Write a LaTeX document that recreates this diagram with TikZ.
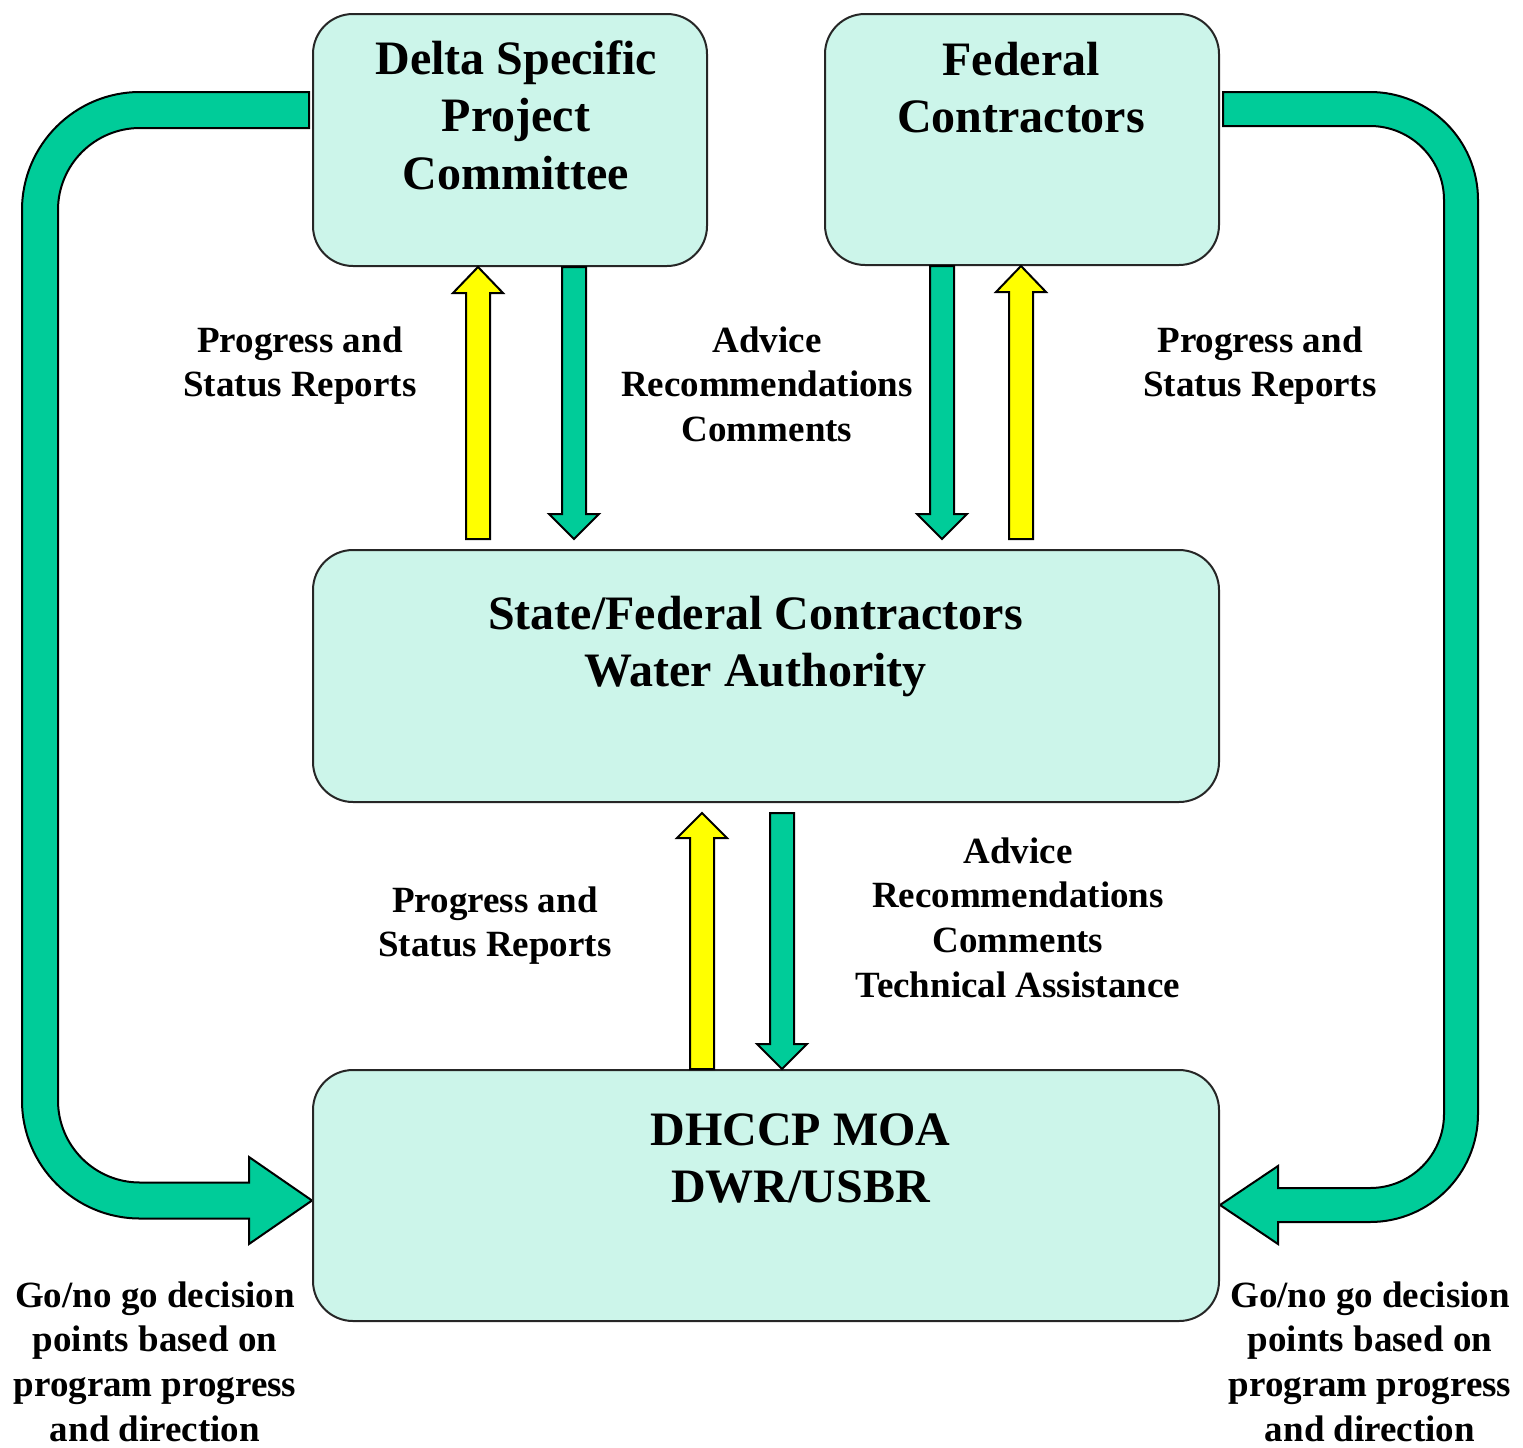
\documentclass[tikz,border=0pt]{standalone}
\usepackage{fontspec}
\setmainfont{Liberation Serif}
\usetikzlibrary{calc}
\definecolor{boxfill}{RGB}{204,245,234}
\definecolor{mygreen}{RGB}{0,204,153}
\definecolor{myyellow}{RGB}{255,255,0}
\pgfdeclarelayer{background}
\pgfsetlayers{background,main}
\newcommand\blockarrow[4]{\draw[#1] ($(#2)+(-12,0)$) -- ($(#3)+(-12,#4)$) -- ($(#3)+(-25,#4)$) -- (#3) -- ($(#3)+(25,#4)$) -- ($(#3)+(12,#4)$) -- ($(#2)+(12,0)$) -- cycle;}
\newcommand\lines[1]{\begin{tabular}[t]{@{}c@{}}#1\end{tabular}}
\begin{document}
\begin{tikzpicture}[x=1pt,y=-1pt,
  box/.style={draw=black!85, line width=2pt, fill=boxfill, rounded corners=40pt, inner sep=0pt},
  title/.style={font=\bfseries\fontsize{48}{57.5}\selectfont, inner sep=0pt, anchor=base},
  lbl/.style={font=\bfseries\fontsize{37}{44.7}\selectfont, inner sep=0pt, anchor=base},
  garrow/.style={draw=black, line width=2pt, fill=mygreen, line join=miter},
  yarrow/.style={draw=black, line width=2pt, fill=myyellow, line join=miter}]
\useasboundingbox (0,0) rectangle (1523,1448);

% boxes
\node[box, minimum width=394pt, minimum height=252pt] (dspc) at (510,140) {};
\node[box, minimum width=394pt, minimum height=251pt] (fed) at (1022,139.5) {};
\node[box, minimum width=906pt, minimum height=252pt] (sfcwa) at (766,676) {};
\node[box, minimum width=906pt, minimum height=251pt] (moa) at (766,1195.5) {};

% box titles
\node[title] (dspct) at (516,74) {\lines{Delta Specific\\Project\\Committee}};
\node[title] (fedt) at (1021,75) {\lines{Federal\\Contractors}};
\node[title] (sfcwat) at (755.5,629) {\lines{State/Federal Contractors\\Water Authority}};
\node[title] (moat) at (800.5,1145) {\lines{DHCCP MOA\\DWR/USBR}};

% labels
\node[lbl] (l1) at (300,352) {\lines{Progress and\\Status Reports}};
\node[lbl] (l2) at (767,352) {\lines{Advice\\Recommendations\\Comments}};
\node[lbl] (l3) at (1260,352) {\lines{Progress and\\Status Reports}};
\node[lbl] (l4) at (495,912) {\lines{Progress and\\Status Reports}};
\node[lbl] (l5) at (1018,863) {\lines{Advice\\Recommendations\\Comments\\Technical Assistance}};
\node[lbl] (l6) at (155,1307) {\lines{Go/no go decision\\points based on\\program progress\\and direction}};
\node[lbl] (l7) at (1370,1307) {\lines{Go/no go decision\\points based on\\program progress\\and direction}};

% small block arrows
\coordinate (a1tip) at (478,0 |- dspc.south);
\coordinate (a1tail) at ($(478,0 |- sfcwa.north)+(0,-10)$);
\coordinate (a2tail) at (574,0 |- dspc.south);
\coordinate (a2tip) at ($(574,0 |- sfcwa.north)+(0,-10)$);
\coordinate (a3tail) at (942,0 |- fed.south);
\coordinate (a3tip) at ($(942,0 |- sfcwa.north)+(0,-10)$);
\coordinate (a4tip) at (1021,0 |- fed.south);
\coordinate (a4tail) at ($(1021,0 |- sfcwa.north)+(0,-10)$);
\coordinate (a5tip) at ($(702,0 |- sfcwa.south)+(0,10)$);
\coordinate (a5tail) at (702,0 |- moa.north);
\coordinate (a6tail) at ($(782,0 |- sfcwa.south)+(0,10)$);
\coordinate (a6tip) at (782,0 |- moa.north);
\blockarrow{yarrow}{a1tail}{a1tip}{26}
\blockarrow{garrow}{a2tail}{a2tip}{-25}
\blockarrow{garrow}{a3tail}{a3tip}{-25}
\blockarrow{yarrow}{a4tail}{a4tip}{26}
\blockarrow{yarrow}{a5tail}{a5tip}{25}
\blockarrow{garrow}{a6tail}{a6tip}{-25}

% big curved arrows
\coordinate (ltop) at ([yshift=30pt]dspc.west);
\coordinate (ltip) at ([yshift=-5pt]moa.west);
\coordinate (rtop) at ([yshift=30.5pt]fed.east);
\coordinate (rtip) at ([yshift=-9.5pt]moa.east);
\begin{pgfonlayer}{background}
\draw[garrow] let \p1=(ltop), \p2=(ltip) in
  (\x1-3pt,\y1+18pt) -- (140pt,\y1+18pt) arc[start angle=90,end angle=180,radius=118pt]
  -- (22pt,\y2+100pt) arc[start angle=180,end angle=270,radius=118pt]
  -- (\x2-63pt,\y2-18pt) -- (\x2-63pt,\y2-43.5pt) -- (\p2) -- (\x2-63pt,\y2+43.5pt) -- (\x2-63pt,\y2+18pt)
  -- (140pt,\y2+18pt) arc[start angle=270,end angle=180,radius=82pt]
  -- (58pt,\y1-100pt) arc[start angle=180,end angle=90,radius=82pt]
  -- (\x1-3pt,\y1-18pt) -- cycle;
\draw[garrow] let \p1=(rtop), \p2=(rtip) in
  (\x1+3pt,\y1+17pt) -- (1370pt,\y1+17pt) arc[start angle=90,end angle=0,radius=108pt]
  -- (1478pt,\y2+91pt) arc[start angle=0,end angle=-90,radius=108pt]
  -- (\x2+58pt,\y2-17pt) -- (\x2+58pt,\y2-39pt) -- (\p2) -- (\x2+58pt,\y2+39pt) -- (\x2+58pt,\y2+17pt)
  -- (1370pt,\y2+17pt) arc[start angle=-90,end angle=0,radius=74pt]
  -- (1444pt,\y1-91pt) arc[start angle=0,end angle=90,radius=74pt]
  -- (\x1+3pt,\y1-17pt) -- cycle;
\end{pgfonlayer}
\end{tikzpicture}
\end{document}
